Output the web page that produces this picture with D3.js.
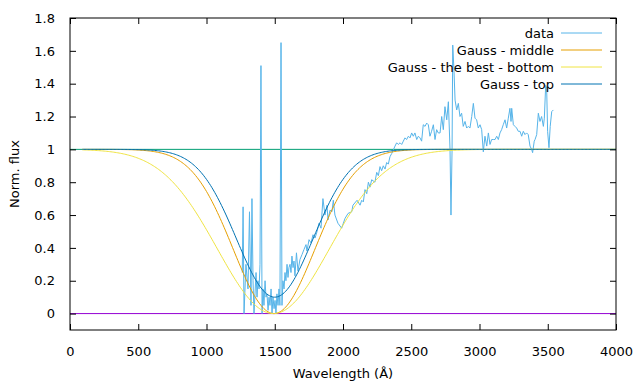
<!DOCTYPE html>
<html><head><meta charset="utf-8">
<script src="https://cdn.jsdelivr.net/npm/d3@7"></script>
<style>body{margin:0;background:#fff}svg{display:block}text{font-family:"DejaVu Sans",sans-serif;font-size:13px;fill:#000}</style>
</head><body><svg id="c" width="640" height="384"></svg>
<script>
const xTicks = [0,500,1000,1500,2000,2500,3000,3500,4000];
const yTicks = [0,0.2,0.4,0.6,0.8,1,1.2,1.4,1.6,1.8];
const yTickLabels = ["0","0.2","0.4","0.6","0.8","1","1.2","1.4","1.6","1.8"];
const legendLabels = ["data","Gauss - middle","Gauss - the best - bottom","Gauss - top"];
// observed spectrum
const wave = [1262,1268,1275,1289,1304,1315,1326,1333,1341,1348,1363,1370,1377,1385,1392,1399,1407,1414,1421,1429,1436,1443,1451,1458,1465,1473,1480,1487,1495,1502,1509,1516,1524,1531,1538,1546,1553,1560,1568,1575,1582,1590,1597,1604,1612,1619,1626,1634,1641,1648,1659,1670,1685,1700,1714,1729,1736,1751,1766,1780,1795,1810,1824,1839,1853,1868,1883,1890,1905,1919,1929,1941,1963,1990,2015,2037,2064,2073,2103,2125,2137,2149,2161,2174,2186,2198,2210,2234,2247,2259,2271,2283,2295,2308,2320,2332,2344,2357,2369,2381,2393,2405,2418,2430,2442,2454,2466,2479,2491,2503,2515,2527,2540,2552,2564,2576,2588,2601,2613,2625,2637,2649,2662,2674,2686,2698,2711,2723,2735,2747,2760,2772,2784,2791,2799,2804,2813,2821,2833,2845,2857,2869,2881,2894,2906,2918,2930,2943,2955,2967,2979,2991,3004,3016,3028,3040,3053,3065,3077,3089,3101,3114,3126,3138,3150,3162,3174,3187,3199,3211,3223,3231,3236,3248,3260,3272,3284,3297,3309,3321,3333,3345,3357,3370,3382,3389,3401,3407,3419,3431,3443,3455,3468,3475,3485,3492,3499,3509,3518,3529,3541];
const flux = [0.25,0.65,0.00,0.30,0.15,0.62,0.05,0.70,0.20,0.00,0.25,0.10,0.20,0.15,0.30,1.51,0.00,0.15,0.05,0.20,0.10,0.12,0.02,0.10,0.05,0.15,0.00,0.10,0.03,0.08,0.00,0.12,0.05,0.15,0.05,1.65,0.05,0.20,0.15,0.25,0.20,0.30,0.22,0.28,0.30,0.25,0.35,0.28,0.32,0.23,0.37,0.26,0.33,0.36,0.39,0.42,0.38,0.45,0.43,0.48,0.46,0.50,0.55,0.52,0.70,0.60,0.66,0.57,0.63,0.62,0.69,0.60,0.55,0.52,0.58,0.61,0.62,0.66,0.69,0.66,0.69,0.68,0.755,0.73,0.80,0.77,0.815,0.80,0.86,0.84,0.895,0.87,0.90,0.88,0.92,0.91,0.955,0.975,0.997,1.02,1.04,1.03,1.04,1.03,1.05,1.07,1.06,1.08,1.07,1.10,1.08,1.10,1.06,1.08,1.07,1.05,1.15,1.14,1.16,1.15,1.08,1.11,1.15,1.06,1.12,1.10,1.10,1.20,1.12,1.26,1.18,1.29,1.00,0.60,1.00,1.635,1.48,1.30,1.24,1.28,1.20,1.22,1.14,1.17,1.13,1.14,1.13,1.20,1.28,1.19,1.18,1.13,1.15,1.12,0.985,1.08,1.02,1.10,1.03,1.06,1.06,1.06,1.08,1.06,1.10,1.12,1.15,1.18,1.13,1.19,1.25,1.17,1.25,1.15,1.14,1.13,1.11,1.11,1.08,1.11,1.09,1.10,1.09,1.02,1.00,0.98,1.05,1.06,1.09,1.22,1.17,1.20,1.14,1.19,1.39,1.37,1.11,1.01,1.14,1.23,1.24];
// Gaussian absorption models: 1 - depth*exp(-(x-c)^2/(2 s^2))
const gaussNames = ["Gauss - middle","Gauss - the best - bottom","Gauss - top"];
const gaussCenter = [1495,1490,1500];
const gaussSigma = [300,410,280];
const gaussDepth = [1.0,1.0,0.9];
const gaussRange = [90,4000];

const svg = d3.select("#c");
const L=70,R=616,T=18,B=330;
const x = d3.scaleLinear().domain([0,4000]).range([L,R]);
const y = d3.scaleLinear().domain([-0.1,1.8]).range([B,T]);
const colors = {zero:"#9400d3",one:"#009e73",data:"#56b4e9",mid:"#e69f00",bot:"#f0e442",top:"#0072b2"};

const plot = svg.append("g");
plot.append("line").attr("x1",x(0)).attr("x2",x(4000)).attr("y1",y(0)).attr("y2",y(0)).attr("stroke",colors.zero);
plot.append("line").attr("x1",x(0)).attr("x2",x(4000)).attr("y1",y(1)).attr("y2",y(1)).attr("stroke",colors.one);

const line = d3.line().x(d=>x(d[0])).y(d=>y(d[1]));
const dataPts = wave.map((w,i)=>[w,flux[i]]);
plot.append("path").attr("d",line(dataPts)).attr("fill","none").attr("stroke",colors.data).attr("stroke-width",1);

const gcol = [colors.mid,colors.bot,colors.top];
const xs = d3.range(gaussRange[0],gaussRange[1]+1,10);
gaussNames.forEach((n,k)=>{
  const pts = xs.map(v=>[v,1-gaussDepth[k]*Math.exp(-Math.pow(v-gaussCenter[k],2)/(2*gaussSigma[k]*gaussSigma[k]))]);
  plot.append("path").attr("d",line(pts)).attr("fill","none").attr("stroke",gcol[k]).attr("stroke-width",1);
});

const tl=6;
const gb = svg.append("g").attr("transform",`translate(0,${B})`).call(d3.axisBottom(x).tickValues(xTicks).tickSize(-tl).tickPadding(tl+11).tickFormat(d3.format("d")));
const gt = svg.append("g").attr("transform",`translate(0,${T})`).call(d3.axisTop(x).tickValues(xTicks).tickSize(-tl).tickFormat(""));
const gl = svg.append("g").attr("transform",`translate(${L},0)`).call(d3.axisLeft(y).tickValues(yTicks).tickSize(-tl).tickPadding(tl+9).tickFormat((d,i)=>yTickLabels[i]));
const gr = svg.append("g").attr("transform",`translate(${R},0)`).call(d3.axisRight(y).tickValues(yTicks).tickSize(-tl).tickFormat(""));
[gb,gt,gl,gr].forEach(g=>{g.select(".domain").remove();g.selectAll("line").attr("stroke","#000");g.selectAll("text").attr("font-family","DejaVu Sans").attr("font-size",13).attr("fill","#000");});
svg.append("rect").attr("x",L).attr("y",T).attr("width",R-L).attr("height",B-T).attr("fill","none").attr("stroke","#000");

svg.append("text").attr("x",(L+R)/2).attr("y",378).attr("text-anchor","middle").text("Wavelength (Å)");
svg.append("text").attr("transform",`translate(19,${(T+B)/2}) rotate(-90)`).attr("text-anchor","middle").text("Norm. flux");

const legCols=[colors.data,colors.mid,colors.bot,colors.top];
legendLabels.forEach((lab,i)=>{
  const yy = 33 + i*17;
  svg.append("text").attr("x",554).attr("y",yy+4.5).attr("text-anchor","end").text(lab);
  svg.append("line").attr("x1",561).attr("x2",602).attr("y1",yy).attr("y2",yy).attr("stroke",legCols[i]);
});
</script></body></html>
